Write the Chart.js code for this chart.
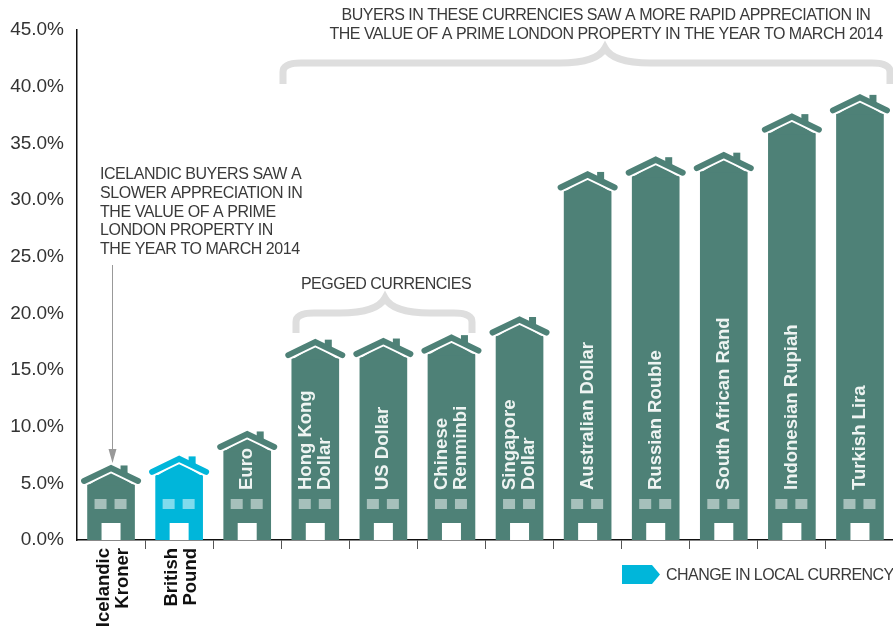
<!DOCTYPE html>
<html>
<head>
<meta charset="utf-8">
<title>Prime London property</title>
<script src="https://cdn.jsdelivr.net/npm/chart.js@4"></script>
<style>
html, body { margin: 0; padding: 0; background: #fff; overflow: hidden; }
canvas { display: block; }
</style>
</head>
<body>
<canvas id="grafico" width="900" height="628"></canvas>
<script>
const categories = ['Icelandic Kroner', 'British Pound', 'Euro', 'Hong Kong Dollar', 'US Dollar', 'Chinese Renminbi',
    'Singapore Dollar', 'Australian Dollar', 'Russian Rouble', 'South African Rand', 'Indonesian Rupiah', 'Turkish Lira'];
const labelLines = [['Icelandic', 'Kroner'], ['British', 'Pound'], ['Euro'], ['Hong Kong', 'Dollar'], ['US Dollar'], ['Chinese', 'Renminbi'],
    ['Singapore', 'Dollar'], ['Australian Dollar'], ['Russian Rouble'], ['South African Rand'], ['Indonesian Rupiah'], ['Turkish Lira']];
const values = [4.9, 5.7, 7.9, 16.0, 16.1, 16.4, 18.0, 30.8, 32.1, 32.5, 35.9, 37.6];
const legendLabel = 'CHANGE IN LOCAL CURRENCY';
const noteRapid = ['BUYERS IN THESE CURRENCIES SAW A MORE RAPID APPRECIATION IN', 'THE VALUE OF A PRIME LONDON PROPERTY IN THE YEAR TO MARCH 2014'];
const noteSlow = ['ICELANDIC BUYERS SAW A', 'SLOWER APPRECIATION IN', 'THE VALUE OF A PRIME', 'LONDON PROPERTY IN', 'THE YEAR TO MARCH 2014'];
const notePegged = 'PEGGED CURRENCIES';

const verde = '#4e8177';
const azul = '#00b6da';
const fonte = '"Liberation Sans", Arial, sans-serif';

function texto(ctx, str, x, y, font, color, align, spacing) {
    ctx.font = font;
    ctx.fillStyle = color;
    ctx.textAlign = align || 'left';
    ctx.textBaseline = 'middle';
    ctx.letterSpacing = spacing || '0px';
    ctx.fillText(str, x, y);
    ctx.letterSpacing = '0px';
}

function chave(ctx, x1, x2, xm, yTop, yLine, yBase) {
    ctx.beginPath();
    ctx.moveTo(x1, yBase);
    ctx.lineTo(x1, yLine + 9);
    ctx.quadraticCurveTo(x1, yLine, x1 + 18, yLine);
    ctx.lineTo(xm - 45, yLine);
    ctx.quadraticCurveTo(xm - 8, yLine, xm, yTop);
    ctx.quadraticCurveTo(xm + 8, yLine, xm + 45, yLine);
    ctx.lineTo(x2 - 18, yLine);
    ctx.quadraticCurveTo(x2, yLine, x2, yLine + 9);
    ctx.lineTo(x2, yBase);
    ctx.strokeStyle = '#dedede';
    ctx.lineWidth = 7;
    ctx.stroke();
}

function casa(ctx, x, y, base, cor, clara) {
    const meia = 23.5;
    ctx.fillStyle = cor;
    ctx.beginPath();
    ctx.moveTo(x - meia, y + 1);
    ctx.lineTo(x, y - 13);
    ctx.lineTo(x + meia, y + 1);
    ctx.fill();
    // white line under the roof
    ctx.strokeStyle = '#fff';
    ctx.lineWidth = 2;
    ctx.lineJoin = 'miter';
    ctx.beginPath();
    ctx.moveTo(x - 25, y - 0.2);
    ctx.lineTo(x, y - 12.2);
    ctx.lineTo(x + 25, y - 0.2);
    ctx.stroke();
    // chimney and roof
    ctx.fillStyle = cor;
    ctx.fillRect(x + 9.5, y - 19, 7, 9);
    ctx.strokeStyle = cor;
    ctx.lineWidth = 6;
    ctx.lineCap = 'round';
    ctx.beginPath();
    ctx.moveTo(x - 27, y - 3.5);
    ctx.lineTo(x, y - 16.5);
    ctx.lineTo(x + 27, y - 3.5);
    ctx.stroke();
    ctx.lineCap = 'butt';
    // windows and door
    ctx.fillStyle = clara;
    ctx.fillRect(x - 16.5, base - 41, 12, 10);
    ctx.fillRect(x + 3.5, base - 41, 12, 10);
    ctx.fillStyle = '#fff';
    ctx.fillRect(x - 9.5, base - 17, 19, 17);
}

const casas = {
    id: 'casas',
    afterDatasetsDraw(chart) {
        const ctx = chart.ctx;
        ctx.save();
        chart.getDatasetMeta(0).data.forEach((bar, i) => {
            casa(ctx, bar.x, bar.y, bar.base, i === 1 ? azul : verde, i === 1 ? '#80dbed' : '#a6c0bb');
            const linhas = labelLines[i];
            if (i < 2) {
                // these two sit under the axis
                linhas.forEach((l, k) => {
                    ctx.save();
                    ctx.translate(bar.x - 7.5 + k * 19, 548);
                    ctx.rotate(-Math.PI / 2);
                    texto(ctx, l, 0, 0, 'bold 18.5px ' + fonte, '#111', 'right');
                    ctx.restore();
                });
            } else {
                linhas.forEach((l, k) => {
                    ctx.save();
                    const dx = linhas.length === 2 ? -9.5 + k * 19 : 0;
                    ctx.translate(bar.x + dx, 490);
                    ctx.rotate(-Math.PI / 2);
                    texto(ctx, l, 0, 0, 'bold 18.5px ' + fonte, '#eef4f2', 'left');
                    ctx.restore();
                });
            }
        });
        ctx.restore();
    },
    afterDraw(chart) {
        const ctx = chart.ctx;
        const leve = '16px ' + fonte;
        ctx.save();
        chave(ctx, 283, 890, 605, 48, 63, 84);
        chave(ctx, 296, 472, 385, 298, 313, 333);
        noteRapid.forEach((l, k) => texto(ctx, l, 606, 15.5 + k * 19, leve, '#3a3a3a', 'center', '-0.5px'));
        noteSlow.forEach((l, k) => texto(ctx, l, 100, 174.5 + k * 18.8, leve, '#3a3a3a', 'left', '-0.45px'));
        texto(ctx, notePegged, 386, 285, leve, '#3a3a3a', 'center', '-0.5px');
        // arrow down to the Icelandic house
        ctx.strokeStyle = '#999';
        ctx.lineWidth = 1;
        ctx.beginPath();
        ctx.moveTo(112.5, 265);
        ctx.lineTo(112.5, 452);
        ctx.stroke();
        ctx.fillStyle = '#999';
        ctx.beginPath();
        ctx.moveTo(108.5, 449);
        ctx.lineTo(116.5, 449);
        ctx.lineTo(112.5, 463);
        ctx.fill();
        // legend
        ctx.fillStyle = azul;
        ctx.beginPath();
        ctx.moveTo(622, 565);
        ctx.lineTo(652, 565);
        ctx.lineTo(660, 574.5);
        ctx.lineTo(652, 584);
        ctx.lineTo(622, 584);
        ctx.fill();
        texto(ctx, legendLabel, 666, 576, leve, '#3a3a3a', 'left', '-0.55px');
        ctx.restore();
    }
};

new Chart(document.getElementById('grafico').getContext('2d'), {
    type: 'bar',
    data: {
        labels: categories,
        datasets: [{
            data: values,
            backgroundColor: values.map((_, i) => i === 1 ? azul : verde),
            barThickness: 47,
            borderWidth: 0
        }]
    },
    options: {
        responsive: false,
        animation: false,
        layout: { padding: { top: 30, right: 6, left: 0, bottom: 0 } },
        plugins: { legend: { display: false }, tooltip: { enabled: false } },
        scales: {
            x: {
                afterFit(scale) { scale.height = 88; },
                border: { color: '#111', width: 1.5 },
                grid: {
                    drawOnChartArea: false,
                    tickLength: 9,
                    color: c => c.index === 0 ? 'rgba(0,0,0,0)' : '#555',
                    offset: true
                },
                ticks: { display: false }
            },
            y: {
                min: 0,
                max: 45,
                afterFit(scale) { scale.width = 77; },
                border: { color: '#111', width: 1.5 },
                grid: { display: false, drawTicks: false },
                ticks: {
                    stepSize: 5,
                    padding: 13,
                    color: '#333',
                    font: { family: fonte, size: 19 },
                    callback: v => v.toFixed(1) + '%'
                }
            }
        }
    },
    plugins: [casas]
});
</script>
</body>
</html>
